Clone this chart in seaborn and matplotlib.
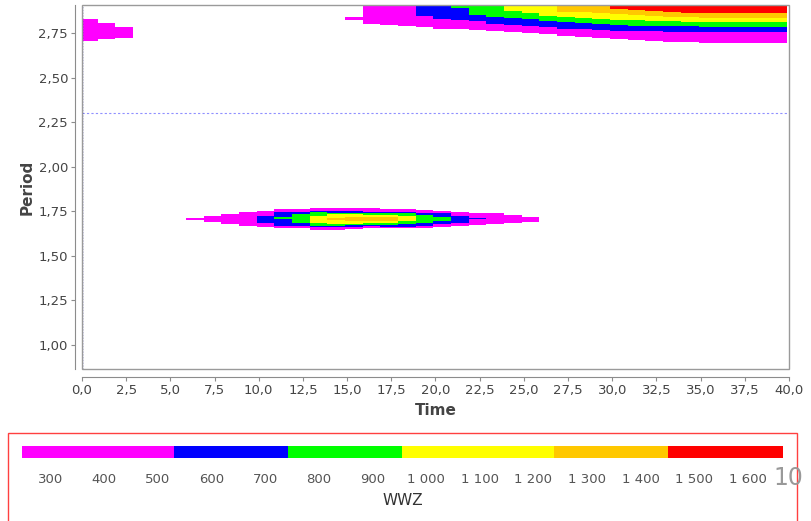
import numpy as np
import pandas as pd
import matplotlib
matplotlib.use("Agg")
import matplotlib.pyplot as plt
from matplotlib.patches import Rectangle
from matplotlib.ticker import FuncFormatter, FixedLocator
import seaborn as sns

# ---------------- data ----------------
level_bounds = [247, 530, 743, 955, 1238, 1451, 1665]
level_colors = ["#FF00FF", "#0000FF", "#00FF00", "#FFFF00", "#FFC800", "#FF0000"]
wwz_ticks = [300, 400, 500, 600, 700, 800, 900, 1000, 1100, 1200, 1300, 1400, 1500, 1600]

period_ticks = [1.00, 1.25, 1.50, 1.75, 2.00, 2.25, 2.50, 2.75]
time_ticks = [0, 2.5, 5, 7.5, 10, 12.5, 15, 17.5, 20, 22.5, 25, 27.5, 30, 32.5, 35, 37.5, 40]
ref_period = 2.30

# top-left patch (level 0)
tl_time = [0, 1, 2]
tl_low = [2.708, 2.718, 2.724]
tl_high = [2.829, 2.806, 2.787]

# central blob, one list per level
c0_time = [6, 7, 8, 9, 10, 11, 12, 13, 14, 15, 16, 17, 18, 19, 20, 21, 22, 23, 24, 25]
c0_low = [1.701, 1.688, 1.677, 1.669, 1.662, 1.654, 1.654, 1.645, 1.645, 1.649,
          1.654, 1.654, 1.654, 1.657, 1.664, 1.669, 1.673, 1.679, 1.683, 1.688]
c0_high = [1.714, 1.725, 1.737, 1.744, 1.752, 1.763, 1.763, 1.770, 1.770, 1.770,
           1.767, 1.761, 1.761, 1.757, 1.752, 1.748, 1.739, 1.739, 1.729, 1.720]
c1_time = [10, 11, 12, 13, 14, 15, 16, 17, 18, 19, 20, 21, 22]
c1_low = [1.686, 1.669, 1.667, 1.662, 1.662, 1.664, 1.667, 1.664, 1.664, 1.667, 1.677, 1.686, 1.705]
c1_high = [1.725, 1.744, 1.744, 1.752, 1.752, 1.752, 1.748, 1.748, 1.748, 1.742, 1.739, 1.725, 1.711]
c2_time = [11, 12, 13, 14, 15, 16, 17, 18, 19, 20]
c2_low = [1.705, 1.683, 1.669, 1.669, 1.673, 1.673, 1.673, 1.679, 1.686, 1.697]
c2_high = [1.716, 1.733, 1.744, 1.739, 1.739, 1.739, 1.739, 1.739, 1.729, 1.720]
c3_time = [13, 14, 15, 16, 17, 18]
c3_low = [1.686, 1.679, 1.679, 1.683, 1.683, 1.697]
c3_high = [1.725, 1.733, 1.733, 1.729, 1.729, 1.724]
c4_time = [14, 15, 16, 17]
c4_low = [1.699, 1.694, 1.697, 1.697]
c4_high = [1.714, 1.718, 1.716, 1.716]

# upper-right ridge: lower edge of each level (NaN = level absent)
nan = np.nan
tr_thin_time = [15]
tr_thin_low = [2.825]
tr_thin_high = [2.840]
tr_time = list(range(16, 40))
tr_bottom0 = [2.802, 2.797, 2.791, 2.785, 2.776, 2.774, 2.770, 2.763, 2.756, 2.750, 2.744, 2.737,
              2.731, 2.725, 2.718, 2.712, 2.707, 2.701, 2.701, 2.694, 2.694, 2.694, 2.694, 2.694]
tr_bottom1 = [nan, nan, nan, 2.849, 2.830, 2.823, 2.819, 2.802, 2.797, 2.791, 2.784, 2.776,
              2.772, 2.769, 2.765, 2.763, 2.761, 2.759, 2.756, 2.756, 2.756, 2.756, 2.756, 2.756]
tr_bottom2 = [nan, nan, nan, nan, nan, 2.890, 2.853, 2.843, 2.838, 2.830, 2.821, 2.813,
              2.806, 2.801, 2.797, 2.793, 2.793, 2.793, 2.791, 2.787, 2.787, 2.787, 2.787, 2.787]
tr_bottom3 = [nan, nan, nan, nan, nan, nan, nan, nan, 2.875, 2.862, 2.849, 2.840,
              2.834, 2.830, 2.826, 2.823, 2.821, 2.819, 2.815, 2.815, 2.815, 2.815, 2.815, 2.815]
tr_bottom4 = [nan, nan, nan, nan, nan, nan, nan, nan, nan, nan, nan, 2.871,
              2.868, 2.862, 2.857, 2.851, 2.849, 2.843, 2.840, 2.838, 2.838, 2.838, 2.838, 2.838]
tr_bottom5 = [nan, nan, nan, nan, nan, nan, nan, nan, nan, nan, nan, nan,
              nan, nan, 2.888, 2.881, 2.875, 2.868, 2.866, 2.866, 2.866, 2.866, 2.866, 2.866]

# ---------------- build cell table ----------------
TOP = 2.95
rows = []
def add(level, times, lows, highs):
    for t, lo, hi in zip(times, lows, highs):
        if not np.isnan(lo):
            rows.append((level, t, lo, hi))

add(0, tl_time, tl_low, tl_high)
add(0, c0_time, c0_low, c0_high)
add(1, c1_time, c1_low, c1_high)
add(2, c2_time, c2_low, c2_high)
add(3, c3_time, c3_low, c3_high)
add(4, c4_time, c4_low, c4_high)
add(0, tr_thin_time, tr_thin_low, tr_thin_high)
for lvl, b in enumerate([tr_bottom0, tr_bottom1, tr_bottom2, tr_bottom3, tr_bottom4, tr_bottom5]):
    add(lvl, tr_time, b, [TOP] * len(b))
cells = pd.DataFrame(rows, columns=["level", "time", "low", "high"])

# ---------------- figure ----------------
sns.set_style("white")
plt.rcParams["font.family"] = ["DejaVu Sans"]

W, H = 812, 521
fig = plt.figure(figsize=(W / 100, H / 100), dpi=100)
L, R, T, B = 82, 789, 5, 369
ax = fig.add_axes([L / W, 1 - B / H, (R - L) / W, (B - T) / H])

X_OFF = -0.12
for lvl in range(len(level_colors)):
    sub = cells[cells.level == lvl]
    ax.bar(sub.time + X_OFF, sub.high - sub.low, bottom=sub.low, width=1.0, align="edge",
           color=level_colors[lvl], linewidth=0, antialiased=False, zorder=2 + lvl * 0.01)

ax.set_xlim(0, 40)
ax.set_ylim(0.864, 2.909)

ax.axhline(ref_period, color="#9090FF", lw=0.8, ls=(0, (2, 2)), zorder=3)
ax.axvline(0, color="#000080", lw=1.0, ls=(0, (1, 1)), zorder=3)

# axes styling (JFreeChart look)
axis_col = "#8C8C8C"
for s in ["top", "right"]:
    ax.spines[s].set_visible(False)
ax.spines["left"].set_position(("outward", 5))
ax.spines["bottom"].set_position(("outward", 6))
ax.spines["left"].set_color(axis_col)
ax.spines["bottom"].set_color(axis_col)
ax.add_patch(Rectangle((0, 0), 1, 1, transform=ax.transAxes, fill=False,
                       edgecolor="#9A9A9A", lw=1.0, clip_on=False, zorder=4))

ax.yaxis.set_major_locator(FixedLocator(period_ticks))
ax.xaxis.set_major_locator(FixedLocator(time_ticks))
ax.yaxis.set_major_formatter(FuncFormatter(lambda v, p: f"{v:.2f}".replace(".", ",")))
ax.xaxis.set_major_formatter(FuncFormatter(lambda v, p: f"{v:.1f}".replace(".", ",")))
ax.tick_params(axis="both", direction="out", length=3, width=0.8, color=axis_col,
               labelsize=9.5, labelcolor="#444444", pad=2, left=True, bottom=True)
ax.set_xlabel("Time", fontsize=11, fontweight="bold", color="#444444", labelpad=4)
ax.set_ylabel("Period", fontsize=11, fontweight="bold", color="#444444", labelpad=3)
ax.grid(False)

# ---------------- legend (colour scale) ----------------
fig.add_artist(Rectangle((8 / W, -0.05), (797 - 8) / W, 0.05 + 1 - 433 / H,
                         transform=fig.transFigure, fill=False, edgecolor="#FF4040", lw=1.0))
cax = fig.add_axes([22 / W, 1 - 458 / H, (783 - 22) / W, 12 / H])
cax.bar(level_bounds[:-1], [1] * (len(level_bounds) - 1), width=np.diff(level_bounds),
        align="edge", color=level_colors, linewidth=0, antialiased=False)
cax.set_xlim(level_bounds[0], level_bounds[-1])
cax.set_ylim(0, 1)
for s in cax.spines.values():
    s.set_visible(False)
cax.set_yticks([])
cax.xaxis.set_major_locator(FixedLocator(wwz_ticks))
cax.xaxis.set_major_formatter(FuncFormatter(lambda v, p: f"{int(v):,}".replace(",", " ")))
cax.tick_params(axis="x", length=0, labelsize=9.5, labelcolor="#555555", pad=11)
cax.set_xlabel("WWZ", fontsize=11, color="#333333", labelpad=5)
fig.text(788 / W, 1 - 478 / H, "10", fontsize=17, color="#999999", ha="center", va="center")

fig.savefig("out.png", dpi=100)
